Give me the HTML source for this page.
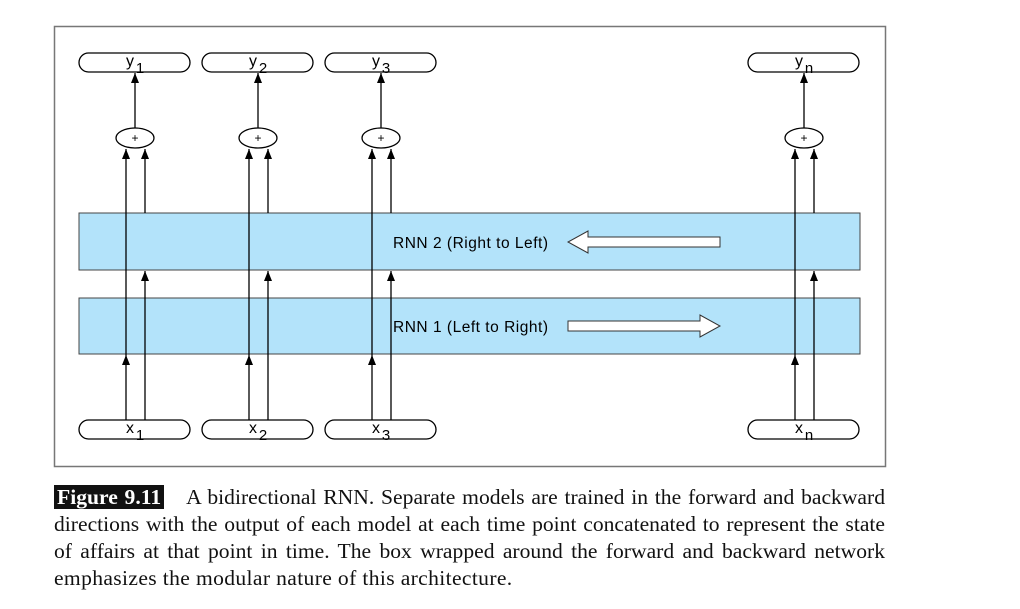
<!DOCTYPE html>
<html><head><style>
body{margin:0;background:#fff;width:1020px;height:609px;overflow:hidden;position:relative;font-family:"Liberation Serif",serif}
.cap{position:absolute;left:54px;top:484px;width:831px;font-size:21.6px;line-height:27px;color:#111}
.cap div{text-align:justify;text-align-last:justify;white-space:nowrap}
.cap div.l{text-align-last:left;letter-spacing:0.35px}
.fig{background:#111;color:#fff;font-weight:bold;padding:0 3px 0 3px;margin-right:22px}
</style></head><body>
<svg width="1020" height="609" style="position:absolute;left:0;top:0" font-family="Liberation Sans, sans-serif">
<defs><marker id="a" markerWidth="10" markerHeight="8" refX="10" refY="4" orient="auto" markerUnits="userSpaceOnUse"><path d="M0,0 L10,4 L0,8 Z" fill="#000"/></marker></defs>
<rect x="54.5" y="26.5" width="831" height="440" fill="none" stroke="#777" stroke-width="1.5"/>
<rect x="79" y="213" width="781" height="57" fill="#b3e3fa" stroke="#444"/>
<rect x="79" y="298" width="781" height="56" fill="#b3e3fa" stroke="#444"/>
<text x="393" y="248" font-size="15.5" textLength="155">RNN 2 (Right to Left)</text>
<text x="393" y="332" font-size="15.5" textLength="155">RNN 1 (Left to Right)</text>
<path d="M720,237 L588,237 L588,231 L568,242 L588,253 L588,247 L720,247 Z" fill="#fff" stroke="#333"/>
<path d="M568,321 L700,321 L700,315 L720,326 L700,337 L700,331 L568,331 Z" fill="#fff" stroke="#333"/>
<g stroke="#000" stroke-width="1.3" fill="none">
<g id="c">
<rect x="79" y="53" width="111" height="19" rx="9.5" fill="#fff"/>
<rect x="79" y="420" width="111" height="19" rx="9.5" fill="#fff"/>
<ellipse cx="135" cy="138" rx="19" ry="10" fill="#fff"/>
<line x1="135" y1="128" x2="135" y2="73" marker-end="url(#a)"/>
<line x1="126" y1="420" x2="126" y2="355" marker-end="url(#a)"/>
<line x1="126" y1="355" x2="126" y2="149" marker-end="url(#a)"/>
<line x1="145" y1="420" x2="145" y2="271" marker-end="url(#a)"/>
<line x1="145" y1="213" x2="145" y2="149" marker-end="url(#a)"/>
</g>
<use href="#c" x="123"/>
<use href="#c" x="246"/>
<use href="#c" x="669"/>
</g>
<g font-size="16" text-anchor="middle" fill="#000">
<text x="135" y="142" font-size="12">+</text><text x="258" y="142" font-size="12">+</text><text x="381" y="142" font-size="12">+</text><text x="804" y="142" font-size="12">+</text>
<text x="130" y="66">y</text><text x="140" y="73" font-size="15">1</text>
<text x="253" y="66">y</text><text x="263" y="73" font-size="15">2</text>
<text x="376" y="66">y</text><text x="386" y="73" font-size="15">3</text>
<text x="799" y="66">y</text><text x="809" y="73" font-size="15">n</text>
<text x="130" y="433">x</text><text x="140" y="440" font-size="15">1</text>
<text x="253" y="433">x</text><text x="263" y="440" font-size="15">2</text>
<text x="376" y="433">x</text><text x="386" y="440" font-size="15">3</text>
<text x="799" y="433">x</text><text x="809" y="440" font-size="15">n</text>
</g>
</svg>
<div class="cap">
<div><span class="fig">Figure 9.11</span>A bidirectional RNN. Separate models are trained in the forward and backward</div>
<div>directions with the output of each model at each time point concatenated to represent the state</div>
<div>of affairs at that point in time. The box wrapped around the forward and backward network</div>
<div class="l">emphasizes the modular nature of this architecture.</div>
</div>
</body></html>
